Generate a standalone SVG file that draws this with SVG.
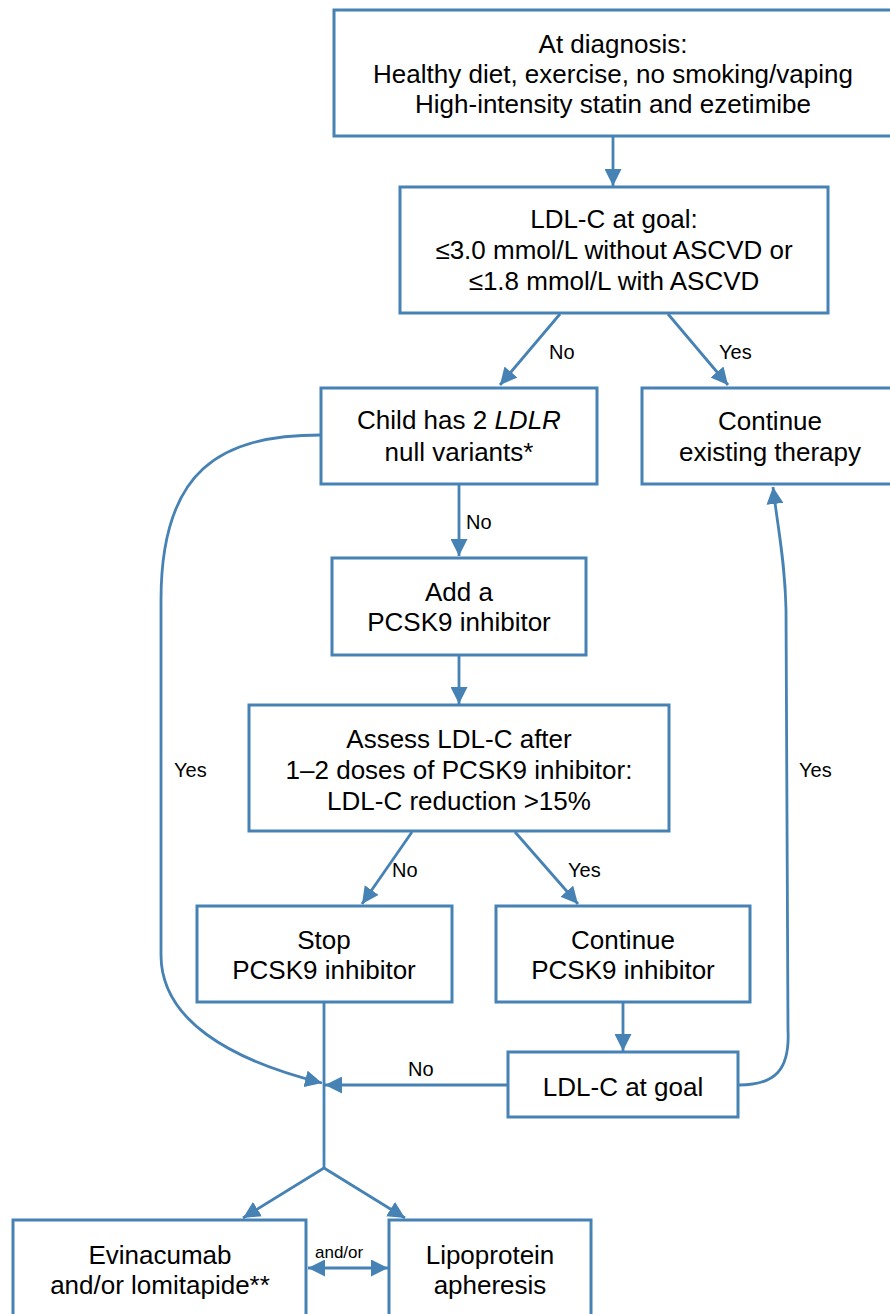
<svg xmlns="http://www.w3.org/2000/svg" width="890" height="1314" viewBox="0 0 890 1314">
<style>
.box{fill:#fff;stroke:#4682b4;stroke-width:3}
.t{font-family:"Liberation Sans",Arial,sans-serif;font-size:26px;fill:#000;text-anchor:middle}
.l{font-family:"Liberation Sans",Arial,sans-serif;font-size:20px;fill:#000}
.s{font-family:"Liberation Sans",Arial,sans-serif;font-size:17px;fill:#000}
.c{fill:none;stroke:#4682b4;stroke-width:2.8}
</style>
<defs>
<marker id="ah" markerUnits="userSpaceOnUse" markerWidth="17" markerHeight="17" viewBox="0 0 17 17" refX="17" refY="8.5" orient="auto">
<path d="M0,0 L17,8.5 L0,17 Z" fill="#4682b4"/>
</marker>
<marker id="as" markerUnits="userSpaceOnUse" markerWidth="17" markerHeight="17" viewBox="0 0 17 17" refX="0" refY="8.5" orient="auto">
<path d="M17,0 L0,8.5 L17,17 Z" fill="#4682b4"/>
</marker>
</defs>
<g id="connectors">
<path class="c" d="M613,136 L613,186" marker-end="url(#ah)"/>
<path class="c" d="M560,314 L500,385" marker-end="url(#ah)"/>
<path class="c" d="M668,314 L728,385" marker-end="url(#ah)"/>
<path class="c" d="M459,485 L459,556" marker-end="url(#ah)"/>
<path class="c" d="M459,656 L459,704" marker-end="url(#ah)"/>
<path class="c" d="M412,832 L362,904" marker-end="url(#ah)"/>
<path class="c" d="M515,832 L578,904" marker-end="url(#ah)"/>
<path class="c" d="M623,1003 L623,1051" marker-end="url(#ah)"/>
<path class="c" d="M508,1085 L325,1085" marker-end="url(#ah)"/>
<path class="c" d="M321,435 C220,435 161,470 161,600 L161,955 C161,1020 230,1060 322,1083" marker-end="url(#ah)"/>
<path class="c" d="M739,1085 C775,1085 790,1070 788,1030 L786,610 C785,560 778,530 773,487" marker-end="url(#ah)"/>
<path class="c" d="M324,1003 L324,1168"/>
<path class="c" d="M324,1168 L243,1218" marker-end="url(#ah)"/>
<path class="c" d="M324,1168 L405,1218" marker-end="url(#ah)"/>
<path class="c" d="M308,1268 L388,1268" marker-start="url(#as)" marker-end="url(#ah)"/>
<text class="l" x="549" y="359">No</text>
<text class="l" x="719" y="359">Yes</text>
<text class="l" x="466" y="529">No</text>
<text class="l" x="392" y="877">No</text>
<text class="l" x="568" y="877">Yes</text>
<text class="l" x="174" y="777">Yes</text>
<text class="l" x="799" y="777">Yes</text>
<text class="l" x="408" y="1076">No</text>
<text class="s" x="315" y="1258">and/or</text>
</g>
<g id="n1"><rect class="box" x="334" y="10" width="560" height="126"/>
<text class="t" x="613" y="53">At diagnosis:</text>
<text class="t" x="613" y="83">Healthy diet, exercise, no smoking/vaping</text>
<text class="t" x="613" y="113">High-intensity statin and ezetimibe</text></g>
<g id="n2"><rect class="box" x="400" y="187" width="428" height="126"/>
<text class="t" x="614" y="228">LDL-C at goal:</text>
<text class="t" x="614" y="259">≤3.0 mmol/L without ASCVD or</text>
<text class="t" x="614" y="290">≤1.8 mmol/L with ASCVD</text></g>
<g id="n3"><rect class="box" x="321" y="388" width="276" height="96"/>
<text class="t" x="459" y="429">Child has 2 <tspan font-style="italic">LDLR</tspan></text>
<text class="t" x="459" y="461">null variants*</text></g>
<g id="n4"><rect class="box" x="642" y="388" width="258" height="96"/>
<text class="t" x="770" y="430">Continue</text>
<text class="t" x="770" y="461">existing therapy</text></g>
<g id="n5"><rect class="box" x="332" y="558" width="254" height="97"/>
<text class="t" x="459" y="601">Add a</text>
<text class="t" x="459" y="631">PCSK9 inhibitor</text></g>
<g id="n6"><rect class="box" x="249" y="705" width="420" height="126"/>
<text class="t" x="459" y="748">Assess LDL-C after</text>
<text class="t" x="459" y="779">1–2 doses of PCSK9 inhibitor:</text>
<text class="t" x="459" y="810">LDL-C reduction &gt;15%</text></g>
<g id="n7"><rect class="box" x="197" y="906" width="255" height="96"/>
<text class="t" x="324" y="949">Stop</text>
<text class="t" x="324" y="979">PCSK9 inhibitor</text></g>
<g id="n8"><rect class="box" x="496" y="906" width="254" height="96"/>
<text class="t" x="623" y="949">Continue</text>
<text class="t" x="623" y="979">PCSK9 inhibitor</text></g>
<g id="n9"><rect class="box" x="508" y="1052" width="230" height="65"/>
<text class="t" x="623" y="1096">LDL-C at goal</text></g>
<g id="n10"><rect class="box" x="13" y="1220" width="293" height="110"/>
<text class="t" x="160" y="1264">Evinacumab</text>
<text class="t" x="160" y="1294">and/or lomitapide**</text></g>
<g id="n11"><rect class="box" x="389" y="1220" width="202" height="110"/>
<text class="t" x="490" y="1264">Lipoprotein</text>
<text class="t" x="490" y="1294">apheresis</text></g>
</svg>
